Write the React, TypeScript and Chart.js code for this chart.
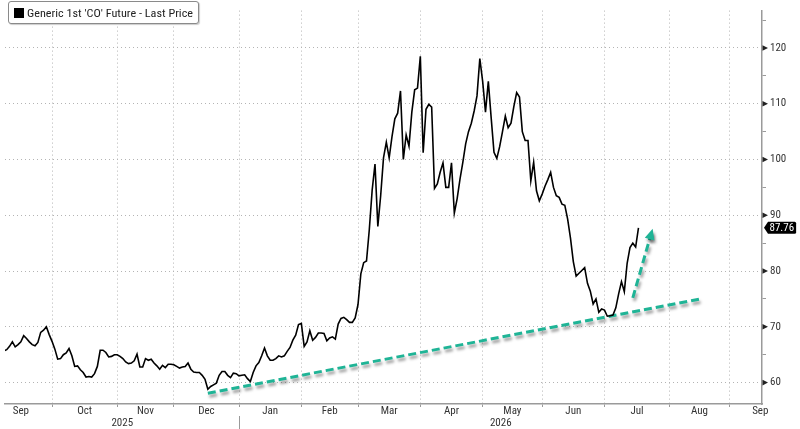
import React, { useEffect, useRef } from "react";
import { Chart, registerables } from "chart.js";

Chart.register(...registerables);

// ---------- data ----------
const seriesName = "Generic 1st 'CO' Future - Last Price";
const seriesStart = "2025-09-08"; // first trading day shown; one value per weekday after it

const sep2025 = [65.7, 65.9, 66.5, 67.3, 66.4, 66.8, 67.3, 68.4, 67.9, 67.3, 66.8, 66.6, 67.2, 69.0, 69.4, 70.0, 68.6];
const oct2025 = [67.4, 66.0, 64.2, 64.3, 65.0, 65.3, 66.1, 64.8, 62.9, 63.0, 62.3, 61.8, 61.0, 61.1, 61.0, 61.6, 62.9, 65.8, 65.8, 65.4, 64.6, 64.7, 65.0];
const nov2025 = [65.0, 64.7, 64.3, 63.7, 63.4, 63.5, 63.9, 65.1, 62.8, 62.8, 64.3, 64.0, 64.2, 63.5, 63.0, 62.4, 63.1, 62.7, 63.3, 63.3];
const dec2025 = [63.2, 62.9, 62.6, 62.8, 62.9, 63.5, 62.4, 61.9, 61.8, 61.8, 61.3, 60.6, 58.8, 59.3, 59.6, 59.9, 61.3, 62.0, 62.0, 61.3, 60.9, 61.7, 61.6];
const jan2026 = [61.2, 61.3, 61.4, 60.7, 60.2, 61.8, 63.0, 63.6, 64.8, 66.2, 64.8, 64.0, 64.0, 64.3, 64.8, 64.6, 64.8, 65.6, 66.3, 67.6, 68.5, 70.4];
const feb2026 = [70.6, 66.5, 67.3, 69.3, 67.6, 68.1, 68.9, 68.9, 68.8, 67.5, 68.0, 68.2, 67.8, 70.5, 71.5, 71.7, 71.3, 70.8, 70.8, 71.6];
const mar2026 = [74.0, 79.5, 81.5, 81.8, 87.5, 94.5, 99.2, 88.0, 93.5, 100.3, 103.1, 100.3, 104.1, 107.3, 108.3, 112.3, 100.0, 104.4, 102.4, 108.5, 112.5, 112.8];
const apr2026 = [118.5, 101.2, 109.0, 109.9, 109.4, 94.8, 95.6, 97.7, 99.4, 95.0, 95.0, 99.4, 90.4, 93.0, 96.5, 99.5, 102.8, 105.0, 106.5, 108.7, 111.4, 118.1];
const may2026 = [114.0, 108.5, 114.0, 107.5, 101.3, 100.2, 102.3, 105.0, 107.8, 105.7, 106.5, 109.5, 112.0, 111.2, 105.0, 103.4, 103.4, 96.2, 99.5, 94.4, 92.6];
const jun2026 = [93.8, 95.2, 96.4, 97.7, 95.0, 93.5, 93.2, 92.0, 91.8, 89.3, 85.9, 81.7, 79.1, 79.6, 80.1, 80.6, 77.8, 76.4, 74.1, 75.0, 72.6, 73.2];
const jul2026 = [73.0, 71.9, 72.0, 72.1, 73.4, 75.9, 78.1, 76.3, 81.4, 84.2, 85.0, 84.3, 87.76];

// month boundaries (first day of each month) and month labels (placed mid-month)
const monthStarts = [
  "2025-09-01", "2025-10-01", "2025-11-01", "2025-12-01", "2026-01-01", "2026-02-01", "2026-03-01",
  "2026-04-01", "2026-05-01", "2026-06-01", "2026-07-01", "2026-08-01", "2026-09-01", "2026-10-01",
];
const monthLabels = ["Sep", "Oct", "Nov", "Dec", "Jan", "Feb", "Mar", "Apr", "May", "Jun", "Jul", "Aug", "Sep"];
const yearLabels = ["2025", "2026"];
const yearBoundary = "2026-01-01";

const yMajorTicks = [60, 70, 80, 90, 100, 110, 120];
const yMinorTicks = [65, 75, 85, 95, 105, 115, 125];

// annotation lines (date, value)
const trendLine = [
  { date: "2025-12-17", value: 58.1 },
  { date: "2026-08-18", value: 75.0 },
];
const arrowLine = [
  { date: "2026-07-15", value: 75.2 },
  { date: "2026-07-24", value: 87.6 },
];

// ---------- helpers ----------
const ORIGIN = Date.UTC(2025, 8, 1);
function weekdayIndex(iso: string): number {
  const [y, m, d] = iso.split("-").map(Number);
  const t = Date.UTC(y, m - 1, d);
  let count = 0;
  for (let u = ORIGIN; u < t; u += 86400000) {
    const dow = new Date(u).getUTCDay();
    if (dow !== 0 && dow !== 6) count++;
  }
  return count;
}

const NARROW_CANDIDATES = ["Liberation Sans Narrow", "Arial Narrow", "Roboto Condensed", "Open Sans Condensed", "Nimbus Sans Narrow"];
const BASE_FONT = "'DejaVu Sans Condensed', 'Liberation Sans', sans-serif";

function detectNarrow(): string | null {
  const c = document.createElement("canvas").getContext("2d");
  if (!c) return null;
  const test = "Generic 1st 'CO' Future 0123456789 mmmwwlli";
  for (const f of NARROW_CANDIDATES) {
    for (const base of ["monospace", "serif"]) {
      c.font = `20px ${base}`;
      const w0 = c.measureText(test).width;
      c.font = `20px '${f}', ${base}`;
      const w1 = c.measureText(test).width;
      if (Math.abs(w1 - w0) > 0.5) return f;
    }
  }
  return null;
}

const GRID = "#b4b4b4";
const AXIS = "#9a9a9a";
const TEAL = "#1fb496";
const TEXT = "#333333";
const X_MIN = 5.4;
const X_MAX = 272.6;
const Y_MIN = 56.16;
const Y_MAX = 126.7;
const LEGEND_TEXT_WIDTH = 166;

const allValues = [
  ...sep2025, ...oct2025, ...nov2025, ...dec2025, ...jan2026, ...feb2026,
  ...mar2026, ...apr2026, ...may2026, ...jun2026, ...jul2026,
];
const startIdx = weekdayIndex(seriesStart);
const priceData = allValues.map((v, i) => ({ x: startIdx + i, y: v }));

const boundaryIdx = monthStarts.map(weekdayIndex);
const gridTicks = boundaryIdx.filter((v) => v > X_MIN && v < X_MAX);
const labelMap = new Map<number, string>();
monthLabels.forEach((lab, i) => {
  const mid = (boundaryIdx[i] + boundaryIdx[i + 1]) / 2;
  labelMap.set(mid, lab);
});
const xTickValues = [...gridTicks, ...Array.from(labelMap.keys())].sort((a, b) => a - b);
const gridSet = new Set(gridTicks);
const yearBoundaryIdx = weekdayIndex(yearBoundary);

const toPts = (arr: { date: string; value: number }[]) => arr.map((p) => ({ x: weekdayIndex(p.date), y: p.value }));

function makeExtras(font: string, squeeze: number) {
  return {
    id: "extras",
    beforeDatasetDraw(chart: any, args: any) {
      const ds = chart.data.datasets[args.index];
      if (ds.shadow) {
        const ctx = chart.ctx;
        ctx.save();
        ctx.shadowColor = "rgba(0,0,0,0.4)";
        ctx.shadowBlur = 3;
        ctx.shadowOffsetX = 1.5;
        ctx.shadowOffsetY = 3;
      }
    },
    afterDatasetDraw(chart: any, args: any) {
      const ds = chart.data.datasets[args.index];
      if (ds.shadow) chart.ctx.restore();
    },
    afterDatasetsDraw(chart: any) {
      const ctx = chart.ctx;
      const xs = chart.scales.x;
      const ys = chart.scales.y;
      const a = toPts(arrowLine);
      const x1 = xs.getPixelForValue(a[0].x), y1 = ys.getPixelForValue(a[0].y);
      const x2 = xs.getPixelForValue(a[1].x), y2 = ys.getPixelForValue(a[1].y);
      const ang = Math.atan2(y2 - y1, x2 - x1);
      const L = 11, W = 10;
      const bx = x2 - L * Math.cos(ang), by = y2 - L * Math.sin(ang);
      ctx.save();
      ctx.shadowColor = "rgba(0,0,0,0.4)";
      ctx.shadowBlur = 3;
      ctx.shadowOffsetX = 1.5;
      ctx.shadowOffsetY = 3;
      ctx.fillStyle = TEAL;
      ctx.beginPath();
      ctx.moveTo(x2, y2);
      ctx.lineTo(bx + (W / 2) * Math.sin(ang), by - (W / 2) * Math.cos(ang));
      ctx.lineTo(bx - (W / 2) * Math.sin(ang), by + (W / 2) * Math.cos(ang));
      ctx.closePath();
      ctx.fill();
      ctx.restore();
    },
    afterDraw(chart: any) {
      const ctx = chart.ctx;
      const xs = chart.scales.x;
      const ys = chart.scales.y;
      const area = chart.chartArea;
      ctx.save();
      // arrow markers at major y ticks
      ctx.fillStyle = "#222";
      yMajorTicks.forEach((v) => {
        const y = ys.getPixelForValue(v);
        ctx.beginPath();
        ctx.moveTo(area.right + 0.5, y - 2.8);
        ctx.lineTo(area.right + 6, y);
        ctx.lineTo(area.right + 0.5, y + 2.8);
        ctx.closePath();
        ctx.fill();
      });
      // last price label
      const last = allValues[allValues.length - 1];
      const txt = last.toFixed(2);
      ctx.font = `11px ${font}`;
      const tw = ctx.measureText(txt).width * squeeze;
      const ly = ys.getPixelForValue(last);
      const left = area.right + 2;
      const bl = left + 4, h = 6;
      const br = Math.min(799, bl + tw + 3.5);
      ctx.fillStyle = "#000";
      ctx.beginPath();
      ctx.moveTo(left, ly);
      ctx.lineTo(bl, ly - h);
      ctx.lineTo(br - 1.5, ly - h);
      ctx.quadraticCurveTo(br, ly - h, br, ly - h + 1.5);
      ctx.lineTo(br, ly + h - 1.5);
      ctx.quadraticCurveTo(br, ly + h, br - 1.5, ly + h);
      ctx.lineTo(bl, ly + h);
      ctx.closePath();
      ctx.fill();
      ctx.fillStyle = "#fff";
      ctx.textAlign = "left";
      ctx.textBaseline = "middle";
      ctx.fillText(txt, bl + 1.5, ly + 0.5);
      // year labels + separator
      const sepX = Math.round(xs.getPixelForValue(yearBoundaryIdx)) + 0.5;
      ctx.strokeStyle = AXIS;
      ctx.lineWidth = 1;
      ctx.beginPath();
      ctx.moveTo(sepX, area.bottom + 12);
      ctx.lineTo(sepX, chart.height);
      ctx.stroke();
      ctx.fillStyle = TEXT;
      ctx.textAlign = "center";
      ctx.fillText(yearLabels[0], (area.left + sepX) / 2, area.bottom + 19);
      ctx.fillText(yearLabels[1], (sepX + area.right) / 2, area.bottom + 19);
      ctx.restore();
    },
  };
}

export default function App() {
  const ref = useRef<HTMLCanvasElement | null>(null);
  const legendText = useRef<HTMLSpanElement | null>(null);

  useEffect(() => {
    if (!ref.current) return;
    const narrow = detectNarrow();
    const FONT = narrow ? `'${narrow}', ${BASE_FONT}` : BASE_FONT;
    const squeeze = narrow ? 1 : 0.85;
    Chart.defaults.font.family = FONT;

    if (legendText.current) {
      legendText.current.style.fontFamily = FONT;
      legendText.current.style.transform = "none";
      const w = legendText.current.getBoundingClientRect().width;
      if (w > 0) legendText.current.style.transform = `scaleX(${LEGEND_TEXT_WIDTH / w})`;
    }

    const ctx = ref.current.getContext("2d") as any;
    if (squeeze !== 1 && ctx && !ctx.__squeezed) {
      const orig = ctx.fillText.bind(ctx);
      ctx.fillText = (t: string, x: number, y: number, mw?: number) => {
        ctx.save();
        ctx.translate(x, y);
        ctx.scale(squeeze, 1);
        if (mw === undefined) orig(t, 0, 0);
        else orig(t, 0, 0, mw / squeeze);
        ctx.restore();
      };
      ctx.__squeezed = true;
    }

    const chart = new Chart(ref.current, {
      type: "line",
      data: {
        datasets: [
          {
            label: seriesName,
            data: priceData,
            borderColor: "#000",
            borderWidth: 1.6,
            pointRadius: 0,
            tension: 0,
          } as any,
          {
            label: "trend",
            data: toPts(trendLine),
            borderColor: TEAL,
            borderWidth: 3,
            borderDash: [8, 4],
            pointRadius: 0,
            shadow: true,
          } as any,
          {
            label: "arrow",
            data: toPts(arrowLine),
            borderColor: TEAL,
            borderWidth: 3,
            borderDash: [8, 4],
            pointRadius: 0,
            shadow: true,
          } as any,
        ],
      },
      options: {
        responsive: false,
        animation: false,
        events: [],
        layout: { autoPadding: false, padding: { left: 5, right: 0, top: 0, bottom: 0 } },
        plugins: { legend: { display: false }, tooltip: { enabled: false } },
        scales: {
          x: {
            type: "linear",
            min: X_MIN,
            max: X_MAX,
            afterBuildTicks: (scale: any) => {
              scale.ticks = xTickValues.map((v) => ({ value: v }));
            },
            afterFit: (scale: any) => {
              scale.height = 25;
            },
            ticks: {
              autoSkip: false,
              maxRotation: 0,
              minRotation: 0,
              padding: -1,
              color: TEXT,
              font: { family: FONT, size: 11, lineHeight: 1 },
              callback: (v: any) => labelMap.get(Number(v)) ?? "",
            },
            grid: {
              color: (c: any) => (c.tick && gridSet.has(c.tick.value) ? GRID : "transparent"),
              tickColor: (c: any) => (c.tick && gridSet.has(c.tick.value) ? AXIS : "transparent"),
              tickLength: 3,
              lineWidth: 1,
            },
            border: { display: true, color: AXIS, width: 1.5, dash: [1, 3] },
          },
          y: {
            type: "linear",
            position: "right",
            min: Y_MIN,
            max: Y_MAX,
            afterBuildTicks: (scale: any) => {
              scale.ticks = [...yMajorTicks, ...yMinorTicks].sort((a, b) => a - b).map((v) => ({ value: v }));
            },
            afterFit: (scale: any) => {
              scale.width = 38;
            },
            ticks: {
              padding: 4,
              color: TEXT,
              font: { family: FONT, size: 11 },
              callback: (v: any) => (yMajorTicks.includes(Number(v)) ? String(v) : ""),
            },
            grid: {
              color: (c: any) => (c.tick && yMajorTicks.includes(c.tick.value) ? GRID : "transparent"),
              tickColor: (c: any) => (c.tick && yMajorTicks.includes(c.tick.value) ? "transparent" : AXIS),
              tickLength: 4,
              lineWidth: 1,
            },
            border: { display: true, color: AXIS, width: 1.5, dash: [1, 3] },
          },
        },
      },
      plugins: [makeExtras(FONT, squeeze)],
    });
    return () => chart.destroy();
  }, []);

  return (
    <div style={{ position: "absolute", left: 0, top: 0, width: 800, height: 429, background: "#fff" }}>
      <canvas ref={ref} width={800} height={429} style={{ display: "block", width: 800, height: 429 }} />
      <div
        style={{
          position: "absolute",
          left: 8,
          top: 1,
          width: 191,
          height: 23,
          boxSizing: "border-box",
          border: "1px solid #8a8a8a",
          borderRadius: 3,
          background: "#fff",
          boxShadow: "1px 1px 1px rgba(0,0,0,0.2)",
          display: "flex",
          alignItems: "center",
          fontFamily: BASE_FONT,
          fontSize: 11.5,
          color: "#222",
          whiteSpace: "nowrap",
          overflow: "hidden",
        }}
      >
        <span style={{ width: 10, height: 10, background: "#000", marginLeft: 5, marginRight: 3, flex: "none" }} />
        <span ref={legendText} style={{ display: "inline-block", transformOrigin: "left center", flex: "none" }}>
          {seriesName}
        </span>
      </div>
    </div>
  );
}
